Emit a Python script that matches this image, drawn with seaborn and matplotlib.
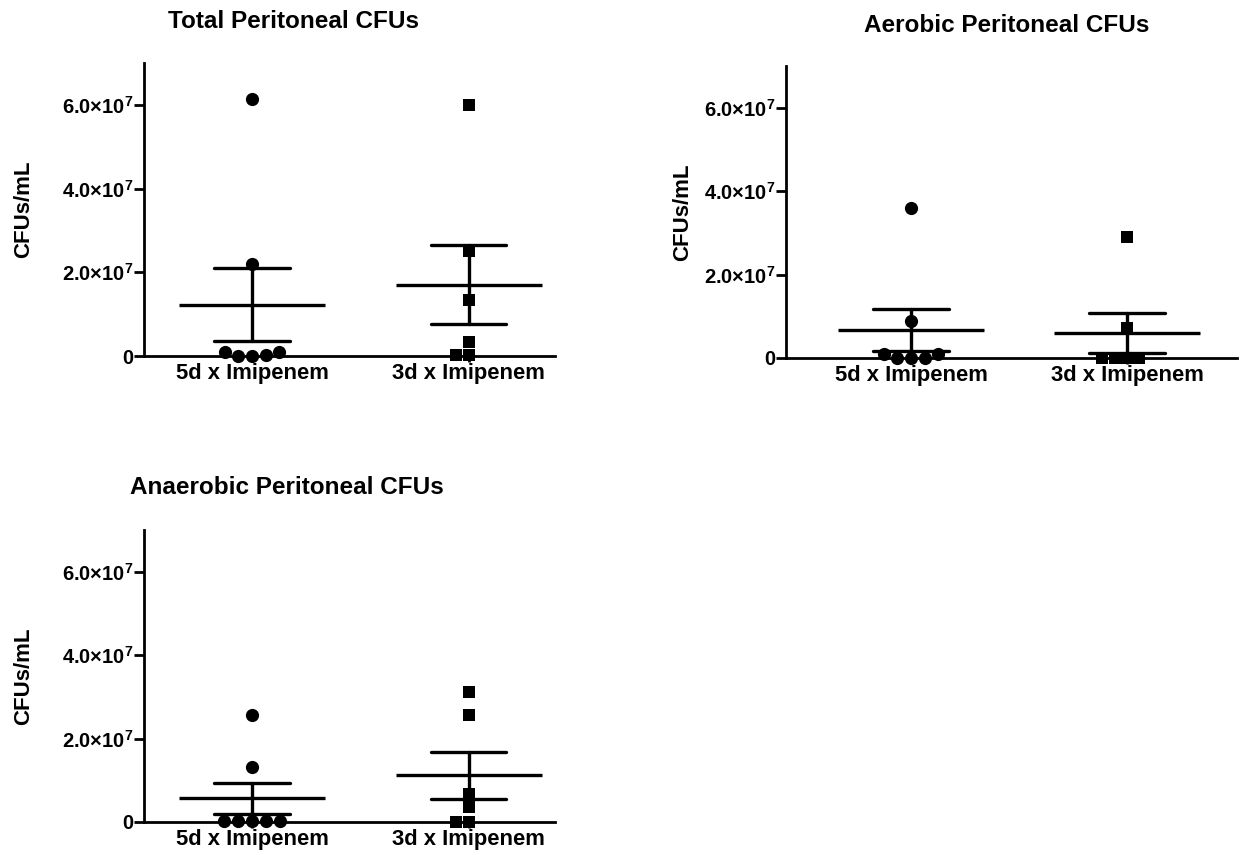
import numpy as np
import pandas as pd
import matplotlib
matplotlib.use("Agg")
import matplotlib.pyplot as plt
import seaborn as sns

groups = ["5d x Imipenem", "3d x Imipenem"]

# CFUs/mL
total_5d = [6.15e7, 2.2e7, 1.0e6, 2.0e5, 0.0, 0.0, 1.0e6]
total_3d = [6.0e7, 2.52e7, 1.34e7, 3.4e6, 2.0e5, 2.0e5]
aerobic_5d = [3.6e7, 8.9e6, 9.0e5, 0.0, 0.0, 0.0, 9.0e5]
aerobic_3d = [2.9e7, 7.2e6, 0.0, 0.0, 0.0, 0.0]
anaerobic_5d = [2.56e7, 1.31e7, 2.0e5, 2.0e5, 2.0e5, 2.0e5, 2.0e5]
anaerobic_3d = [3.12e7, 2.56e7, 6.75e6, 3.6e6, 0.0, 0.0]

titles = ["Total Peritoneal CFUs", "Aerobic Peritoneal CFUs", "Anaerobic Peritoneal CFUs"]
yticks = [0, 2e7, 4e7, 6e7]
ytick_labels = ["0", r"2.0$\times$10$^{\mathbf{7}}$", r"4.0$\times$10$^{\mathbf{7}}$", r"6.0$\times$10$^{\mathbf{7}}$"]


def make_df(a, b):
    return pd.DataFrame({"group": [groups[0]] * len(a) + [groups[1]] * len(b),
                         "cfu": a + b})


sns.set_style("ticks", {"axes.edgecolor": "black", "text.color": "black",
                        "xtick.color": "black", "ytick.color": "black",
                        "axes.labelcolor": "black"})
plt.rcParams["font.family"] = ["Liberation Sans", "DejaVu Sans"]
plt.rcParams["font.weight"] = "bold"
plt.rcParams["mathtext.fontset"] = "custom"
plt.rcParams["mathtext.rm"] = "Liberation Sans"
plt.rcParams["mathtext.bf"] = "Liberation Sans:bold"

fig = plt.figure(figsize=(12.42, 8.55), dpi=100)

panels = [
    (make_df(total_5d, total_3d), [0.1159, 0.5836, 0.331, 0.3427], (-0.5, 1.40), -0.266, (294, 22)),
    (make_df(aerobic_5d, aerobic_3d), [0.6329, 0.5813, 0.3631, 0.3415], (-0.58, 1.51), -0.206, (1007, 25)),
    (make_df(anaerobic_5d, anaerobic_3d), [0.1159, 0.0386, 0.331, 0.3415], (-0.5, 1.40), -0.266, (287, 487)),
]

for (df, pos, xlim, ylab_x, tpos), title in zip(panels, titles):
    ax = fig.add_axes(pos)
    for g, m, s in zip(groups, ["o", "s"], [9.5, 8.5]):
        sns.swarmplot(data=df[df["group"] == g], x="group", y="cfu", order=groups,
                      color="black", marker=m, size=s, ax=ax, clip_on=False)
    sns.pointplot(data=df, x="group", y="cfu", order=groups, errorbar="se",
                  capsize=0.35, color="black", linestyle="none", marker="_",
                  markersize=105, markeredgewidth=2.4,
                  err_kws={"linewidth": 2.4}, ax=ax)
    for c in ax.collections:
        c.set_clip_on(False)
    ax.set_xlim(*xlim)
    ax.set_ylim(0, 7e7)
    ax.set_yticks(yticks)
    ax.set_yticklabels(ytick_labels)
    ax.set_xlabel("")
    ax.set_ylabel("CFUs/mL", fontsize=16, fontweight="bold")
    ax.yaxis.set_label_coords(ylab_x, 0.5)
    ax.tick_params(axis="y", length=7, width=2, labelsize=14.5, pad=0.5)
    ax.tick_params(axis="x", length=4, width=2, labelsize=15.8, pad=1)
    for lab in ax.get_xticklabels() + ax.get_yticklabels():
        lab.set_fontweight("bold")
    sns.despine(ax=ax)
    ax.spines["left"].set_linewidth(2)
    ax.spines["bottom"].set_linewidth(2)
    fig.text(tpos[0] / 1242, 1 - tpos[1] / 855, title, ha="center", va="center",
             fontsize=17.5, fontweight="bold")

fig.savefig("out.png", dpi=100)
